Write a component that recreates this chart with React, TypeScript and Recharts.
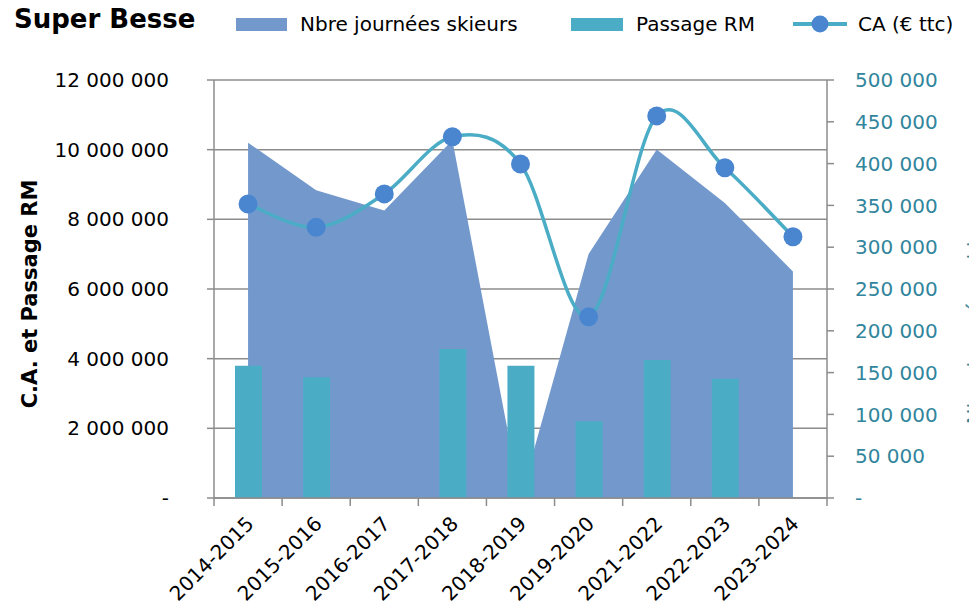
import { Area, Bar, CartesianGrid, ComposedChart, Line, XAxis, YAxis } from "recharts";

const seasons = [
  "2014-2015",
  "2015-2016",
  "2016-2017",
  "2017-2018",
  "2018-2019",
  "2019-2020",
  "2021-2022",
  "2022-2023",
  "2023-2024",
];
const skierDays = [425000, 368000, 344000, 428000, 0, 292000, 417000, 353000, 271000];
const passagesRM = [3800000, 3470000, null, 4280000, 3800000, 2200000, 3960000, 3420000, null];
const revenue = [8440000, 7770000, 8730000, 10370000, 9590000, 5200000, 10970000, 9480000, 7500000];
const leftTicks = [0, 2000000, 4000000, 6000000, 8000000, 10000000, 12000000];
const rightTicks = [0, 50000, 100000, 150000, 200000, 250000, 300000, 350000, 400000, 450000, 500000];

const data = seasons.map((season, i) => ({
  season,
  skiers: skierDays[i],
  rm: passagesRM[i],
  ca: revenue[i],
}));

const WIDTH = 969;
const HEIGHT = 612;
const AXIS_W = 100;
const margin = { top: 80, right: 42, bottom: 14, left: 114 };
const plotWidth = WIDTH - margin.left - margin.right - 2 * AXIS_W;
const halfBand = plotWidth / seasons.length / 2;

const FONT = "'DejaVu Sans', sans-serif";
const AXIS_GREY = "#8c8c8c";
const AREA_BLUE = "#7399cc";
const TEAL = "#4bacc6";
const DOT_BLUE = "#4a86d0";
const TEAL_TEXT = "#31859c";

function formatNumber(value: number) {
  if (value === 0) return "-";
  return String(value).replace(/\B(?=(\d{3})+(?!\d))/g, " ");
}

// Excel-like smoothed line (Catmull-Rom style bezier)
function excelSmooth(context: any) {
  let pts: number[][] = [];
  return {
    areaStart() {},
    areaEnd() {},
    lineStart() {
      pts = [];
    },
    point(x: number, y: number) {
      pts.push([+x, +y]);
    },
    lineEnd() {
      const n = pts.length;
      if (!n) return;
      context.moveTo(pts[0][0], pts[0][1]);
      for (let i = 0; i < n - 1; i++) {
        const p0 = pts[Math.max(i - 1, 0)];
        const p1 = pts[i];
        const p2 = pts[i + 1];
        const p3 = pts[Math.min(i + 2, n - 1)];
        context.bezierCurveTo(
          p1[0] + (p2[0] - p0[0]) / 6,
          p1[1] + (p2[1] - p0[1]) / 6,
          p2[0] - (p3[0] - p1[0]) / 6,
          p2[1] - (p3[1] - p1[1]) / 6,
          p2[0],
          p2[1]
        );
      }
    },
  };
}

function SeasonTick(props: any) {
  const { x, y, payload } = props;
  const index = seasons.indexOf(payload.value);
  const isLast = index === seasons.length - 1;
  return (
    <g>
      <line x1={x - halfBand} y1={y} x2={x - halfBand} y2={y + 8} stroke={AXIS_GREY} strokeWidth={1.5} />
      {isLast ? (
        <line x1={x + halfBand} y1={y} x2={x + halfBand} y2={y + 8} stroke={AXIS_GREY} strokeWidth={1.5} />
      ) : null}
      <text
        transform={`translate(${x + 7},${y + 27}) rotate(-45)`}
        textAnchor="end"
        fontSize={20}
        fontFamily={FONT}
        fill="#000"
      >
        {payload.value}
      </text>
    </g>
  );
}

const legendText = {
  position: "absolute" as const,
  top: 14,
  fontSize: 20,
  lineHeight: 1,
  whiteSpace: "nowrap" as const,
  color: "#000",
};

export default function App() {
  return (
    <div
      style={{
        position: "absolute",
        left: 0,
        top: 0,
        width: WIDTH,
        height: HEIGHT,
        overflow: "hidden",
        background: "#fff",
        fontFamily: FONT,
      }}
    >
      <ComposedChart width={WIDTH} height={HEIGHT} data={data} margin={margin}>
        <CartesianGrid yAxisId="left" vertical={false} stroke={AXIS_GREY} strokeWidth={1.5} />
        <XAxis
          dataKey="season"
          interval={0}
          tickSize={0}
          tickMargin={0}
          height={100}
          axisLine={{ stroke: AXIS_GREY, strokeWidth: 1.5 }}
          tickLine={false}
          tick={<SeasonTick />}
        />
        <YAxis
          yAxisId="left"
          orientation="left"
          width={AXIS_W}
          domain={[0, 12000000]}
          ticks={leftTicks}
          tickFormatter={formatNumber}
          tickSize={7}
          tickMargin={38}
          axisLine={{ stroke: AXIS_GREY, strokeWidth: 1.5 }}
          tickLine={{ stroke: AXIS_GREY, strokeWidth: 1.5 }}
          tick={{ fill: "#000", fontSize: 20, fontFamily: FONT }}
        />
        <YAxis
          yAxisId="right"
          orientation="right"
          width={AXIS_W}
          domain={[0, 500000]}
          ticks={rightTicks}
          tickFormatter={formatNumber}
          tickSize={7}
          tickMargin={21}
          axisLine={{ stroke: AXIS_GREY, strokeWidth: 1.5 }}
          tickLine={{ stroke: AXIS_GREY, strokeWidth: 1.5 }}
          tick={{ fill: TEAL_TEXT, fontSize: 20, fontFamily: FONT }}
        />
        <Area
          yAxisId="right"
          dataKey="skiers"
          type="linear"
          fill={AREA_BLUE}
          fillOpacity={1}
          stroke="none"
          isAnimationActive={false}
        />
        <Bar yAxisId="left" dataKey="rm" fill={TEAL} barSize={27} isAnimationActive={false} />
        <Line
          yAxisId="left"
          dataKey="ca"
          type={excelSmooth as any}
          stroke={TEAL}
          strokeWidth={3.5}
          dot={{ r: 9.5, fill: DOT_BLUE, stroke: DOT_BLUE, strokeWidth: 0 }}
          activeDot={false}
          isAnimationActive={false}
        />
      </ComposedChart>

      <div
        style={{
          position: "absolute",
          left: 14,
          top: 6,
          fontSize: 26,
          lineHeight: 1,
          fontWeight: "bold",
          whiteSpace: "nowrap",
        }}
      >
        Super Besse
      </div>

      <div style={{ position: "absolute", left: 236, top: 18, width: 51, height: 13, background: AREA_BLUE }} />
      <div style={{ ...legendText, left: 300 }}>Nbre journées skieurs</div>
      <div style={{ position: "absolute", left: 571, top: 18, width: 52, height: 13, background: TEAL }} />
      <div style={{ ...legendText, left: 636 }}>Passage RM</div>
      <svg style={{ position: "absolute", left: 790, top: 12 }} width={60} height={24}>
        <line x1={3} y1={12} x2={57} y2={12} stroke={TEAL} strokeWidth={4} />
        <circle cx={30} cy={12} r={8.5} fill={DOT_BLUE} />
      </svg>
      <div style={{ ...legendText, left: 858 }}>CA (€ ttc)</div>

      <div
        style={{
          position: "absolute",
          left: 30,
          top: 294,
          transform: "translate(-50%, -50%) rotate(-90deg)",
          fontSize: 21,
          lineHeight: 1,
          fontWeight: "bold",
          whiteSpace: "nowrap",
        }}
      >
        C.A. et Passage RM
      </div>
      {/* right axis title runs off the edge in the original; only its tips show */}
      <div
        style={{
          position: "absolute",
          left: 976,
          top: 310,
          transform: "translate(-50%, -50%) rotate(-90deg)",
          fontSize: 21,
          lineHeight: 1,
          whiteSpace: "nowrap",
          color: TEAL_TEXT,
        }}
      >
        Nbre journées skieurs
      </div>
    </div>
  );
}
